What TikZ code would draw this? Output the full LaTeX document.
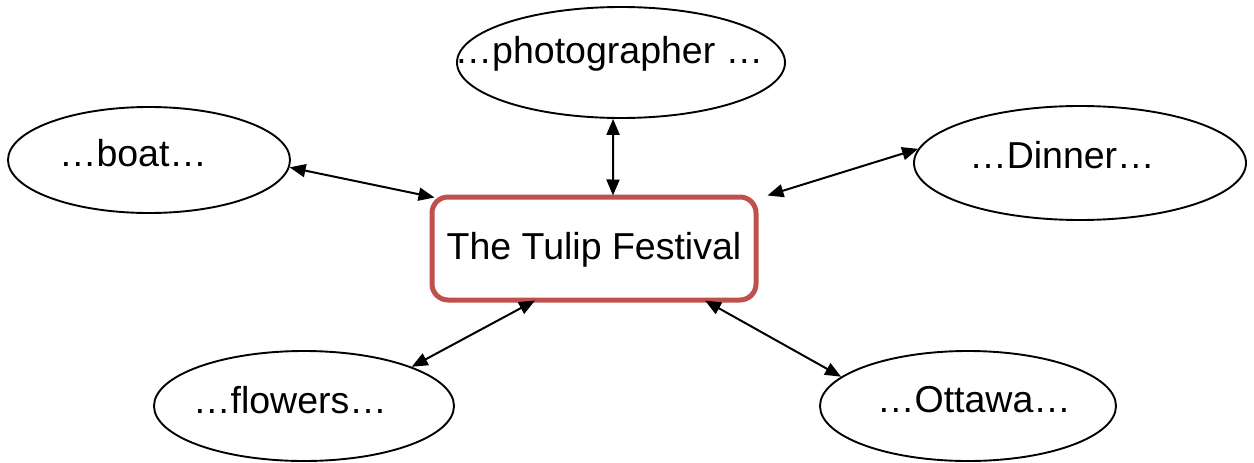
\documentclass[tikz,border=0pt]{standalone}
\usepackage{fontspec}
\setmainfont{Liberation Sans}
\usetikzlibrary{shapes.geometric,arrows.meta,calc}
\definecolor{boxred}{HTML}{C0504D}
\begin{document}
\begin{tikzpicture}[x=1pt,y=-1pt,
  bubble/.style={ellipse,draw=black,line width=1.9pt,inner sep=0pt},
  lbl/.style={inner sep=0pt,font=\fontsize{37.5}{45}\selectfont},
  centerbox/.style={draw=boxred,line width=5pt,rounded corners=16pt,fill=white,
     minimum width=324pt,minimum height=103pt,inner sep=0pt},
  link/.style={line width=2pt,{Triangle[length=16pt,width=13pt]}-{Triangle[length=16pt,width=13pt]}}]
\useasboundingbox (0,0) rectangle (1254,463);

% central box
\node[centerbox] (tulip) at (594,248.5) {};
\node[lbl] (tuliptext) at (594,250) {The Tulip Festival};

% ellipses
\node[bubble,minimum width=328pt,minimum height=111pt] (photo) at (621,62.5) {};
\node[lbl] (phototext) at (609,54) {…photographer …};

\node[bubble,minimum width=282pt,minimum height=106pt] (boat) at (149,160) {};
\node[lbl] (boattext) at (133,153) {…boat…};

\node[bubble,minimum width=332pt,minimum height=114pt] (dinner) at (1080,163) {};
\node[lbl] (dinnertext) at (1062,155) {…Dinner…};

\node[bubble,minimum width=300pt,minimum height=110pt] (flowers) at (304,406) {};
\node[lbl] (flowerstext) at (290,400) {…flowers…};

\node[bubble,minimum width=296pt,minimum height=110pt] (ottawa) at (968,406) {};
\node[lbl] (ottawatext) at (974,400) {…Ottawa…};

% connector ends on the box
\coordinate (tB) at ([shift={(5,3)}]tulip.north west);
\coordinate (tP) at ([shift={(19,1)}]tulip.north);
\coordinate (tD) at ([shift={(9,1)}]tulip.north east);
\coordinate (tF) at ([shift={(-59,-2)}]tulip.south);
\coordinate (tO) at ([shift={(111,-2)}]tulip.south);

% connectors
\draw[link] (boat.-3) -- (tB);
\draw[link] (photo.-98) -- (tP);
\draw[link] (dinner.175.5) -- (tD);
\draw[link] (flowers.20) -- (tF);
\draw[link] (ottawa.167.5) -- (tO);
\end{tikzpicture}
\end{document}
